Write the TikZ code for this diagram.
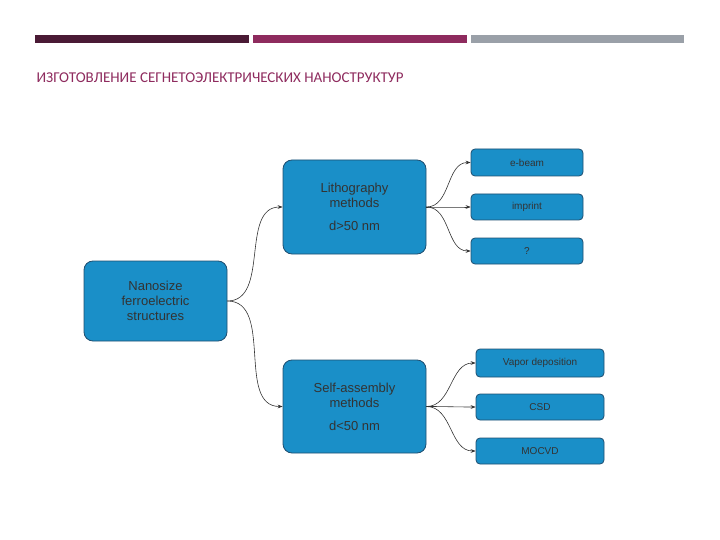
\documentclass[tikz,border=0pt]{standalone}
\usepackage{fontspec}
\setmainfont{Liberation Sans}
\newfontfamily\titlefont{Carlito}
\usetikzlibrary{arrows.meta}
\definecolor{boxfill}{HTML}{1A8FC8}
\definecolor{boxline}{HTML}{1F4E70}
\definecolor{bardark}{HTML}{4A1A35}
\definecolor{barmag}{HTML}{8E2B5E}
\definecolor{bargray}{HTML}{9AA0A8}
\begin{document}
\begin{tikzpicture}[x=1pt,y=-1pt,
  bigbox/.style={draw=boxline,fill=boxfill,rounded corners=9pt,line width=0.8pt,align=center,text=black!80,font=\fontsize{13}{15}\selectfont},
  smallbox/.style={draw=boxline,fill=boxfill,rounded corners=4pt,line width=0.8pt,align=center,text=black!80,font=\fontsize{10}{12}\selectfont},
  conn/.style={-{Stealth[length=5pt]},black!80,line width=0.6pt,out=0,in=180}]
\useasboundingbox (0,0) rectangle (720,540);
\fill[bardark] (35,35) rectangle (249,43);
\fill[barmag] (253,35) rectangle (467,43);
\fill[bargray] (471,35) rectangle (684,43);
\node[anchor=west,text=barmag,font=\titlefont\fontsize{15}{17}\selectfont] (title) at (33,78) {ИЗГОТОВЛЕНИЕ СЕГНЕТОЭЛЕКТРИЧЕСКИХ НАНОСТРУКТУР};
\node[bigbox,minimum width=143pt,minimum height=80pt] (nano) at (155.5,301) {Nanosize\\ferroelectric\\structures};
\node[bigbox,minimum width=143pt,minimum height=94pt] (lith) at (354.5,207) {Lithography\\methods\\[8pt]d>50 nm};
\node[bigbox,minimum width=143pt,minimum height=93pt] (self) at (354.5,406.5) {Self-assembly\\methods\\[8pt]d<50 nm};
\node[smallbox,minimum width=112pt,minimum height=27pt] (eb) at (527,162.5) {e-beam};
\node[smallbox,minimum width=112pt,minimum height=26pt] (imp) at (527,207) {imprint};
\node[smallbox,minimum width=112pt,minimum height=26pt] (q) at (527,251) {?};
\node[smallbox,minimum width=128pt,minimum height=28pt] (vap) at (540,363) {Vapor deposition};
\node[smallbox,minimum width=128pt,minimum height=26pt] (csd) at (540,407) {CSD};
\node[smallbox,minimum width=128pt,minimum height=26pt] (moc) at (540,451) {MOCVD};
\draw[conn] (nano.east) to (lith.west);
\draw[conn] (nano.east) to (self.west);
\draw[conn] (lith.east) to (eb.west);
\draw[conn] (lith.east) to (imp.west);
\draw[conn] (lith.east) to (q.west);
\draw[conn] (self.east) to (vap.west);
\draw[conn] (self.east) to (csd.west);
\draw[conn] (self.east) to (moc.west);
\end{tikzpicture}
\end{document}
